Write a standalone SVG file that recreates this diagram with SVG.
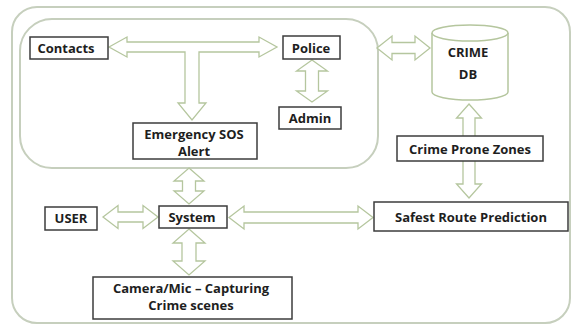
<svg xmlns="http://www.w3.org/2000/svg" width="574" height="327" viewBox="0 0 574 327">
<style>
.frame{fill:none;stroke:#c6cfbd;stroke-width:2}
.arr{fill:#ffffff;stroke:#b5c69e;stroke-width:1.3;stroke-linejoin:miter}
.box{fill:#ffffff;stroke:#3c3c3c;stroke-width:1.5}
.db{fill:#ffffff;stroke:#b5c69e;stroke-width:1.5}
text{font-family:"Open Sans","Noto Sans","DejaVu Sans",sans-serif;font-weight:700;font-size:13px;fill:#1e1e1e;text-anchor:middle}
</style>
<rect width="574" height="327" fill="#ffffff"/>
<g id="frames">
<rect class="frame" x="12" y="7" width="558" height="316" rx="25"/>
<rect class="frame" x="20" y="19" width="358" height="149" rx="32"/>
</g>
<g id="connectors">
<path class="arr" d="M109 47 L127 37 L127 42 L259 42 L259 37 L277 47 L259 57 L259 52 L199 52 L199 103 L206 103 L192 120 L178 103 L185 103 L185 52 L127 52 L127 57 Z"/>
<path class="arr" d="M377 48 L392 36 L392 42.5 L415 42.5 L415 36 L430 48 L415 60 L415 53.5 L392 53.5 L392 60 Z"/>
<path class="arr" d="M312 60 L327.5 71 L318.5 71 L318.5 91 L327.5 91 L312 102 L296.5 91 L305.5 91 L305.5 71 L296.5 71 Z"/>
<path class="arr" d="M469 104 L481.5 118 L475 118 L475 184 L481.5 184 L469 198 L456.5 184 L463 184 L463 118 L456.5 118 Z"/>
<path class="arr" d="M189 168 L204 181 L195.5 181 L195.5 191 L204 191 L189 204 L174 191 L182.5 191 L182.5 181 L174 181 Z"/>
<path class="arr" d="M103 217 L118 205.5 L118 212 L143 212 L143 205.5 L158 217 L143 228.5 L143 222 L118 222 L118 228.5 Z"/>
<path class="arr" d="M229 217.5 L244 206 L244 212 L358 212 L358 206 L373 217.5 L358 229 L358 223 L244 223 L244 229 Z"/>
<path class="arr" d="M189 229 L205 243 L196 243 L196 261 L205 261 L189 275 L173 261 L182 261 L182 243 L173 243 Z"/>
</g>
<g id="contacts">
<rect class="box" x="30" y="37" width="78" height="22"/>
<text x="66" y="53">Contacts</text>
</g>
<g id="police">
<rect class="box" x="283" y="36" width="57" height="23"/>
<text x="311" y="53">Police</text>
</g>
<g id="admin">
<rect class="box" x="279" y="107" width="62" height="22"/>
<text x="310" y="123">Admin</text>
</g>
<g id="emergency">
<rect class="box" x="133" y="123" width="124" height="36"/>
<text x="194" y="138.5">Emergency SOS</text>
<text x="194" y="155.5">Alert</text>
</g>
<g id="crimedb">
<path class="db" d="M432 33 L432 92 A38 8 0 0 0 508 92 L508 33 A38 8 0 0 0 432 33 Z"/>
<path class="db" fill="none" d="M432 33 A38 8 0 0 0 508 33"/>
<text x="468" y="57">CRIME</text>
<text x="468" y="79">DB</text>
</g>
<g id="crimeprone">
<rect class="box" x="397" y="136" width="146" height="25"/>
<text x="470" y="154">Crime Prone Zones</text>
</g>
<g id="safest">
<rect class="box" x="374" y="202" width="194" height="29"/>
<text x="471" y="222">Safest Route Prediction</text>
</g>
<g id="user">
<rect class="box" x="45" y="207" width="52" height="23"/>
<text x="71" y="223">USER</text>
</g>
<g id="system">
<rect class="box" x="159" y="206" width="68" height="22"/>
<text x="192" y="222">System</text>
</g>
<g id="camera">
<rect class="box" x="93" y="277" width="199" height="42"/>
<text x="191" y="292.5">Camera/Mic – Capturing</text>
<text x="191" y="310">Crime scenes</text>
</g>
</svg>
